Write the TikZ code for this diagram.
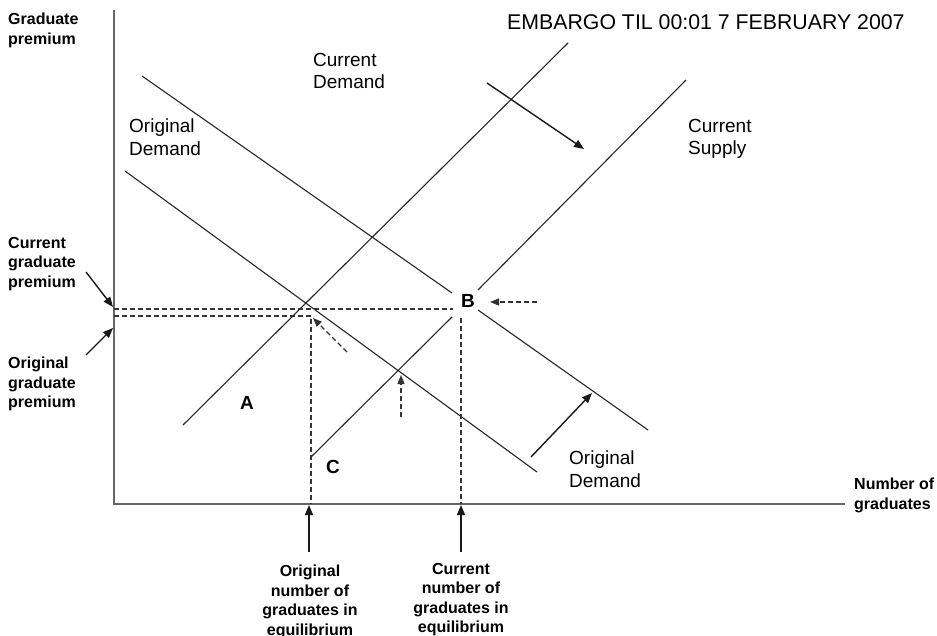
\documentclass[tikz,border=0pt]{standalone}
\usepackage{fontspec}
\setmainfont{Liberation Sans}
\usetikzlibrary{arrows.meta}
\begin{document}
\begin{tikzpicture}[x=1pt,y=-1pt,
  curve/.style={line width=1.1pt, draw=black!85},
  axisline/.style={line width=1.6pt, draw=black!60},
  guide/.style={line width=1.3pt, draw=black!80, dash pattern=on 5pt off 3pt},
  shiftarrow/.style={line width=1.4pt, draw=black!90, -{Triangle[length=10pt,width=8pt]}},
  guidearrow/.style={guide, -{Triangle[length=9pt,width=7pt]}},
  lab/.style={inner sep=0pt, font=\fontsize{19}{22.5}\selectfont, align=left, anchor=north west},
  blab/.style={inner sep=0pt, font=\fontsize{16}{19.5}\selectfont\bfseries, align=left, anchor=north west},
  clab/.style={inner sep=0pt, font=\fontsize{16}{19.5}\selectfont\bfseries, align=center, anchor=north},
  pt/.style={inner sep=0pt, font=\fontsize{19}{22}\selectfont\bfseries},
]
\useasboundingbox (0,0) rectangle (937,636);

% axes
\coordinate (O) at (114,504);
\coordinate (ytop) at (114,10);
\coordinate (xend) at (845,504);
\draw[axisline] (ytop) -- (O) -- (xend);

% curves
\coordinate (od1) at (125,171);  \coordinate (od2) at (537,472);
\coordinate (cd1) at (142,76);   \coordinate (cd2) at (452,293);
\coordinate (cd3) at (478,310);  \coordinate (cd4) at (648,430);
\coordinate (os1) at (183,425);  \coordinate (os2) at (568,43);
\coordinate (cs1) at (311,457);  \coordinate (cs2) at (452,317);
\coordinate (cs3) at (478,290);  \coordinate (cs4) at (686,80);
\draw[curve] (od1) -- (od2);
\draw[curve] (cd1) -- (cd2);
\draw[curve] (cd3) -- (cd4);
\draw[curve] (os1) -- (os2);
\draw[curve] (cs1) -- (cs2);
\draw[curve] (cs3) -- (cs4);

% dashed guides
\coordinate (g1a) at (114,309); \coordinate (g1b) at (453,309);
\coordinate (g2a) at (114,316); \coordinate (g2b) at (311,504);
\coordinate (g3a) at (461,318); \coordinate (g3b) at (461,504);
\draw[guide] (g1a) -- (g1b);
\draw[guide] (g2a) -| (g2b);
\draw[guide] (g3a) -- (g3b);

% dashed arrows
\coordinate (da1) at (537,302); \coordinate (da1t) at (490,302);
\coordinate (da2) at (347,352); \coordinate (da2t) at (313,318);
\coordinate (da3) at (401,417); \coordinate (da3t) at (401,375);
\draw[guidearrow] (da1) -- (da1t);
\draw[guidearrow] (da2) -- (da2t);
\draw[guidearrow] (da3) -- (da3t);

% solid shift arrows
\coordinate (sa1) at (487,83);  \coordinate (sa1t) at (584,149);
\coordinate (sa2) at (531,457); \coordinate (sa2t) at (592,393);
\draw[shiftarrow] (sa1) -- (sa1t);
\draw[shiftarrow] (sa2) -- (sa2t);

% labels
\node[blab] (gp) at (8,13) {Graduate\\premium};
\node[blab] (cgp) at (8,237) {Current\\graduate\\premium};
\node[blab] (ogp) at (8,357) {Original\\graduate\\premium};
\node[blab] (nog) at (854,478) {Number of\\graduates};
\node[clab] (onum) at (310,565) {Original\\number of\\graduates in\\equilibrium};
\node[clab] (cnum) at (461,563) {Current\\number of\\graduates in\\equilibrium};

\node[lab] (cdl) at (313,53) {Current\\Demand};
\node[lab] (odl1) at (129,119) {Original\\Demand};
\node[lab] (csl) at (688,119) {Current\\Supply};
\node[lab] (odl2) at (569,451) {Original\\Demand};
\node[inner sep=0pt, anchor=north west, font=\fontsize{21.3}{24}\selectfont] (emb) at (507,14) {EMBARGO TIL 00:01 7 FEBRUARY 2007};

\node[pt] (A) at (247,403) {A};
\node[pt] (B) at (468,301) {B};
\node[pt] (C) at (333,467) {C};

% label arrows
\coordinate (la1) at (86,272);  \coordinate (la1t) at (113,307);
\coordinate (la2) at (86,355);  \coordinate (la2t) at (113,328);
\coordinate (la3) at (309,552); \coordinate (la3t) at (309,505);
\coordinate (la4) at (461,552); \coordinate (la4t) at (461,505);
\draw[shiftarrow] (la1) -- (la1t);
\draw[shiftarrow] (la2) -- (la2t);
\draw[shiftarrow] (la3) -- (la3t);
\draw[shiftarrow] (la4) -- (la4t);
\end{tikzpicture}
\end{document}
